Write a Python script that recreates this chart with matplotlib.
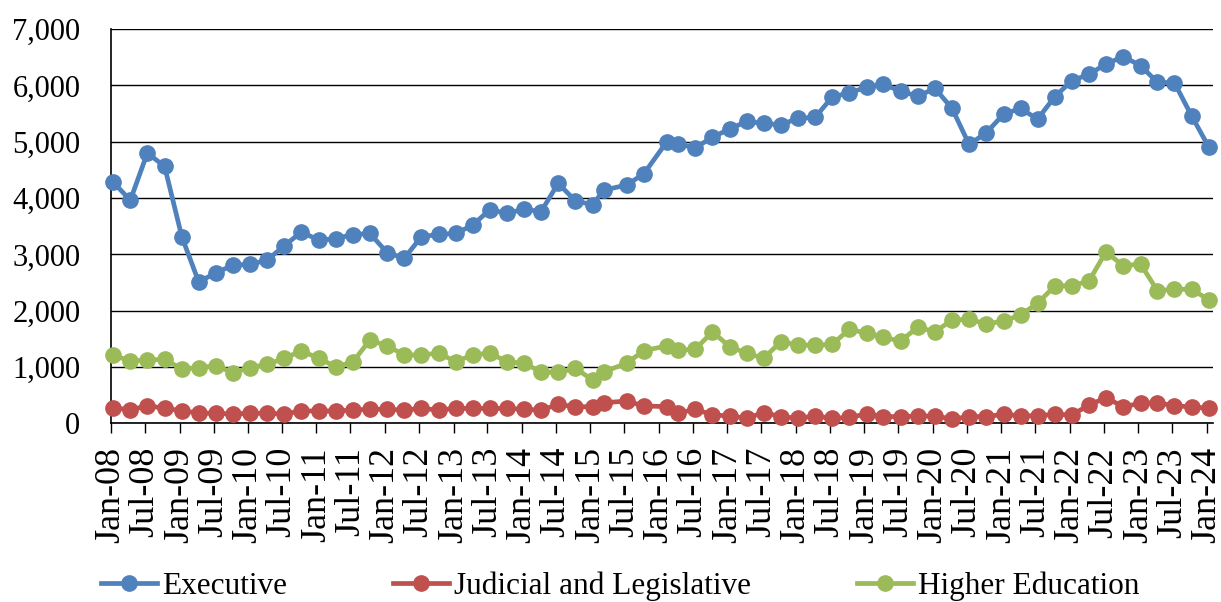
import matplotlib
matplotlib.use("Agg")
import matplotlib.pyplot as plt
import matplotlib.dates as mdates
import matplotlib.ticker as mticker
import pandas as pd
from datetime import datetime

# survey dates (mid-month), quarterly with a couple of shifted months
dates = [
    "2008-01", "2008-04", "2008-07", "2008-10",
    "2009-01", "2009-04", "2009-07", "2009-10",
    "2010-01", "2010-04", "2010-07", "2010-10",
    "2011-01", "2011-04", "2011-07", "2011-10",
    "2012-01", "2012-04", "2012-07", "2012-10",
    "2013-01", "2013-04", "2013-07", "2013-10",
    "2014-01", "2014-04", "2014-07", "2014-10",
    "2015-01", "2015-03", "2015-07", "2015-10",
    "2016-02", "2016-04", "2016-07", "2016-10",
    "2017-01", "2017-04", "2017-07", "2017-10",
    "2018-01", "2018-04", "2018-07", "2018-10",
    "2019-01", "2019-04", "2019-07", "2019-10",
    "2020-01", "2020-04", "2020-07", "2020-10",
    "2021-01", "2021-04", "2021-07", "2021-10",
    "2022-01", "2022-04", "2022-07", "2022-10",
    "2023-01", "2023-04", "2023-07", "2023-10",
    "2024-01",
]

executive = [4280, 3960, 4800, 4560, 3310, 2510, 2670, 2810, 2820, 2900,
             3150, 3400, 3250, 3280, 3350, 3370, 3030, 2930, 3310, 3355,
             3370, 3520, 3790, 3730, 3800, 3760, 4260, 3950, 3880, 4140,
             4230, 4430, 5000, 4960, 4890, 5080, 5225, 5360, 5325, 5300,
             5415, 5430, 5790, 5870, 5965, 6020, 5895, 5810, 5945, 5590,
             4950, 5160, 5490, 5590, 5400, 5800, 6085, 6195, 6380, 6510,
             6350, 6055, 6045, 5455, 4900]

judicial = [280, 235, 315, 265, 225, 180, 180, 165, 180, 180,
            165, 220, 220, 220, 235, 250, 250, 235, 265, 235,
            265, 265, 265, 265, 250, 235, 335, 295, 295, 365,
            395, 310, 295, 180, 250, 150, 130, 90, 190, 120,
            90, 130, 90, 105, 165, 120, 120, 130, 130, 75,
            120, 120, 160, 135, 135, 160, 150, 325, 455, 295,
            355, 365, 310, 295, 265]

higher_ed = [1210, 1105, 1125, 1135, 965, 990, 1020, 900, 990, 1045,
             1155, 1285, 1155, 1005, 1085, 1480, 1375, 1215, 1215, 1245,
             1095, 1215, 1245, 1095, 1065, 915, 905, 975, 770, 915,
             1065, 1290, 1375, 1300, 1315, 1625, 1360, 1245, 1155, 1450,
             1390, 1390, 1400, 1670, 1600, 1525, 1460, 1705, 1625, 1835,
             1845, 1765, 1815, 1925, 2130, 2440, 2445, 2525, 3045, 2795,
             2830, 2355, 2380, 2380, 2190]

series_names = ["Executive", "Judicial and Legislative", "Higher Education"]
colors = ["#4F81BD", "#C0504D", "#9BBB59"]

x = pd.to_datetime(dates) + pd.Timedelta(days=12)

plt.rcParams["font.family"] = ["Liberation Serif", "DejaVu Serif"]

fig = plt.figure(figsize=(12.21, 6.02), dpi=100)
ax = fig.add_axes([0.0909, 0.2968, 0.9023, 0.655])

for vals, name, c in zip([executive, judicial, higher_ed], series_names, colors):
    ax.plot(x, vals, color=c, lw=3.4, marker="o", markersize=11,
            label=name, clip_on=False, zorder=3)

ax.set_ylim(0, 7000)
ax.set_xlim(datetime(2008, 1, 1), datetime(2024, 2, 2))
ax.yaxis.set_major_locator(mticker.MultipleLocator(1000))
ax.yaxis.set_major_formatter(mticker.FuncFormatter(lambda v, p: f"{int(v):,}"))
ax.grid(axis="y", color="black", lw=1.0)
ax.set_axisbelow(True)

ax.xaxis.set_major_locator(mdates.MonthLocator(bymonth=[1, 7]))
ax.xaxis.set_major_formatter(mdates.DateFormatter("%b-%y"))
ax.tick_params(axis="x", direction="out", length=7, width=1, pad=10,
               labelsize=26, labelrotation=90)
ax.tick_params(axis="y", length=0, pad=22, labelsize=22)

for s in ["top", "right"]:
    ax.spines[s].set_visible(False)
ax.spines["left"].set_color("black")
ax.spines["bottom"].set_color("black")
ax.spines["left"].set_linewidth(1.2)
ax.spines["bottom"].set_linewidth(1.2)

fig.legend(loc="center", bbox_to_anchor=(0.508, 0.026), ncol=3, frameon=False,
           fontsize=22.5, handlelength=1.8, handletextpad=0.15,
           columnspacing=3.4, borderaxespad=0)

fig.savefig("out.png", dpi=100)
